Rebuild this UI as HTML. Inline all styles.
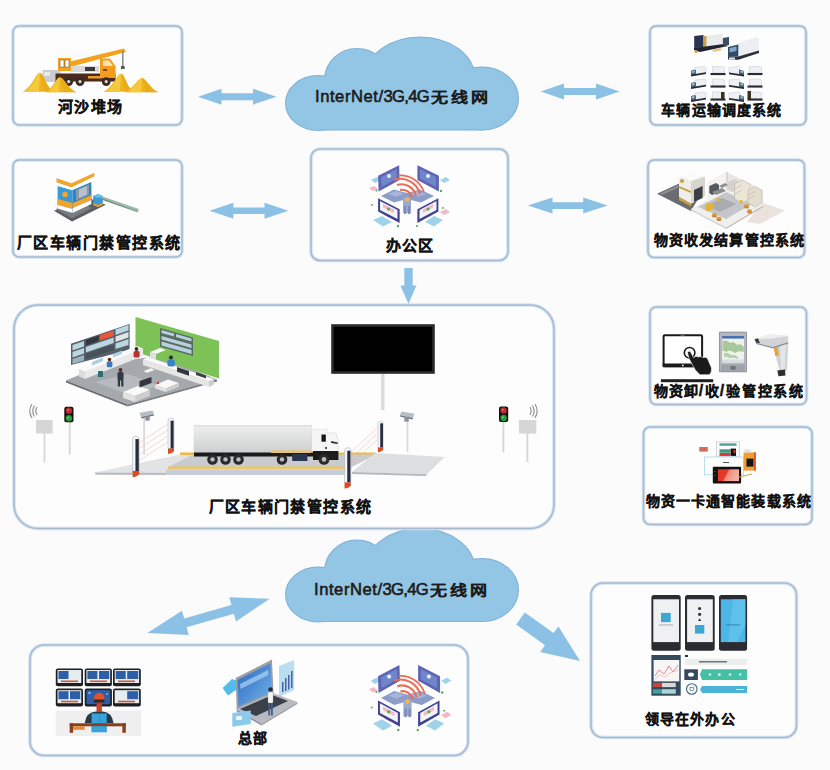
<!DOCTYPE html>
<html lang="zh-CN"><head><meta charset="utf-8">
<style>
html,body{margin:0;padding:0;background:#fbfbfc;width:830px;height:770px;overflow:hidden;}
body{position:relative;font-family:"Liberation Sans",sans-serif;}
svg.bg{position:absolute;left:0;top:0;}
.t{position:absolute;white-space:nowrap;font-weight:bold;color:#111;font-size:16px;line-height:1.6;transform-origin:0 0;-webkit-text-stroke:0.25px #111;}
.sl{margin-right:0.6px;margin-left:-0.6px;font-size:16px;-webkit-text-stroke:0.4px #111;}
.cj{display:inline-block;font-weight:bold;font-size:17px;margin-left:2.5px;letter-spacing:2.9px;transform:scaleY(0.8);transform-origin:50% 75%;-webkit-text-stroke:0.2px #1b1b1b}
.c{position:absolute;white-space:nowrap;color:#1b1b1b;font-size:17px;line-height:17px;-webkit-text-stroke:0.6px #1b1b1b;font-size:16.6px;}
</style></head><body>
<svg class="bg" width="830" height="770" viewBox="0 0 830 770">
<defs>
 <g id="cloud">
  <g fill="none" stroke="#7fb1da" stroke-width="2">
   <ellipse cx="318" cy="103" rx="32" ry="27"/>
   <ellipse cx="357" cy="80" rx="32" ry="31"/>
   <ellipse cx="420" cy="77" rx="54" ry="39.5"/>
   <ellipse cx="482" cy="98.5" rx="36" ry="31"/>
   <rect x="318" y="90" width="164" height="39.5"/>
  </g>
  <g fill="#93c6e5">
   <ellipse cx="318" cy="103" rx="32" ry="27"/>
   <ellipse cx="357" cy="80" rx="32" ry="31"/>
   <ellipse cx="420" cy="77" rx="54" ry="39.5"/>
   <ellipse cx="482" cy="98.5" rx="36" ry="31"/>
   <rect x="318" y="90" width="164" height="39.5"/>
  </g>
 </g>

 <g id="office">
  <!-- keyboards / light cyan pads -->
  <g fill="#9fd3ea">
   <polygon points="371,180 377,177 381,180 375,183"/>
   <polygon points="440,180 446,177 450,180 444,183" />
   <polygon points="373,220 382,216 392,222 383,226.5"/>
   <polygon points="425,222 434,216 443,220 434,226.5"/>
  </g>
  <g fill="#f2b8c8">
   <polygon points="369,188 374,186 378,189 373,191"/>
   <polygon points="384,215 390,212 395,215 389,218"/>
   <polygon points="421,215 427,212 432,215 426,218"/>
   <polygon points="440,212 446,209 450,212 444,215"/>
  </g>
  <!-- center desk cross -->
  <polygon points="381,196 394,189.5 407,193 420,189.5 434,196 421,202.5 407,199 394,202.5" fill="#8d9dc9"/>
  <polygon points="388,194 396,191 404,193.5 396,196.5" fill="#a9b6da"/>
  <polygon points="410,193.5 418,191 426,194 418,196.5" fill="#a9b6da"/>
  <polygon points="403,198 411,198 411,213 403,213" fill="#9aa9cf"/>
  <rect x="404" y="206" width="2.2" height="8" fill="#7d8dbb"/><rect x="408" y="206" width="2.2" height="8" fill="#7d8dbb"/>
  <!-- top-left monitor -->
  <polygon points="378.1,175.7 399.1,165.2 399.6,179.9 378.6,191.4" fill="#5d63b5"/>
  <polygon points="381,177 396.5,169 397,178.5 381.5,187" fill="#6f86c9"/>
  <circle cx="389" cy="176" r="2" fill="#e8eefa"/>
  <!-- top-right monitor -->
  <polygon points="417.4,165.2 438.9,175.7 438.9,191.4 417.4,179.9" fill="#5d63b5"/>
  <polygon points="420,169 436,177 436,187 420,178.5" fill="#6f86c9"/>
  <circle cx="428" cy="176" r="2" fill="#e8eefa"/>
  <!-- wifi arcs -->
  <g fill="none" stroke="#ec6b55" stroke-width="2">
   <path d="M400,190 A10,10 0 0 1 412,197"/>
   <path d="M397,185 A15,15 0 0 1 416,195.5"/>
   <path d="M394,180 A20,20 0 0 1 420,194"/>
   <path d="M398,175.5 A25,25 0 0 1 424,192" stroke-width="1.6"/>
  </g>
  <circle cx="407" cy="199.5" r="2.3" fill="#f4b24a"/>
  <!-- bottom-left monitor -->
  <polygon points="378.1,198.3 399.6,209.3 399.6,222.9 378.1,211.4" fill="#3d4196"/>
  <polygon points="380,201 397.5,210 397.5,219 380,210" fill="#f6f3f5"/>
  <polygon points="383,204 394,209.5 394,213 383,207.5" fill="#f2b8c8"/>
  <circle cx="388.5" cy="209" r="1.5" fill="#49b24d"/>
  <!-- bottom-right monitor -->
  <polygon points="417.4,209.3 438.4,198.3 438.4,211.4 417.4,222.9" fill="#3d4196"/>
  <polygon points="419.5,210 436.5,201 436.5,210 419.5,219" fill="#f6f3f5"/>
  <polygon points="423,209.5 433,204 433,207.5 423,213" fill="#f2b8c8"/>
  <circle cx="428" cy="209" r="1.5" fill="#49b24d"/>
  <!-- plants -->
  <g fill="#4caf50">
   <circle cx="376.5" cy="190.5" r="1"/><circle cx="441" cy="191" r="1.2"/>
   <circle cx="398" cy="226" r="1.2"/><circle cx="417" cy="226" r="1.1"/>
   <circle cx="443" cy="208" r="0.9"/><circle cx="372" cy="205" r="0.9"/>
  </g>
 </g>

 <g id="mtA">
  <polygon points="4,1 14,0 15,1 15,6 5,7.5 4,6.5" fill="#eef0f3" stroke="#c3c8ce" stroke-width="0.5"/>
  <polygon points="0,4 4,3 5,4 5,8.5 1,9 0,8" fill="#4f6579"/>
  <polygon points="0.8,4.5 3.5,4 3.5,6 0.8,6.5" fill="#9cc0d8"/>
  <polygon points="0,8.3 15,5.8 15,7.6 0,10" fill="#262a33"/>
 </g>
 <g id="mtB">
  <polygon points="2,0 13,0 14,1 14,6.5 2,6.5" fill="#eef0f3" stroke="#c3c8ce" stroke-width="0.5"/>
  <polygon points="0,6.5 15,6.5 15,8.6 0,8.6" fill="#262a33"/>
 </g>
 <g id="mtC">
  <polygon points="0,1 10,0 11,1 11,6.5 1,7.5 0,6.5" fill="#eef0f3" stroke="#c3c8ce" stroke-width="0.5"/>
  <polygon points="10,3 14,4 15,5 15,9 11,8.5 10,7.5" fill="#4f6579"/>
  <polygon points="11.5,4 14.2,4.7 14.2,6.5 11.5,6" fill="#9cc0d8"/>
  <polygon points="0,6 15,8.3 15,10 0,7.8" fill="#262a33"/>
 </g>

 <g id="post">
  <!-- local: x 0..7, y 0..H via transform; drawn for height 40 -->
  <path d="M1,4 Q1,0 4,0 Q7,0 7,4 L7,34 L1,34 Z" fill="#f4f5f7" stroke="#aeb4bd" stroke-width="0.6"/>
  <rect x="3.6" y="3" width="3" height="31" fill="#262b3d"/>
  <path d="M1,34 L7,34 L7,37 Q5,40 1,40 Z" fill="#de4a1f"/>
 </g>
 <g id="tl">
  <rect x="0" y="0" width="9.2" height="15.6" rx="2" fill="#111"/>
  <circle cx="4.6" cy="4" r="3.2" fill="#c0282a"/>
  <circle cx="4.6" cy="11.5" r="3.2" fill="#2a9a3c"/>
  <circle cx="3.8" cy="3.2" r="1" fill="#e46a6a"/>
  <circle cx="3.8" cy="10.7" r="1" fill="#6fd07e"/>
 </g>
 <g id="waves" fill="none" stroke="#8a8a8a" stroke-width="1.1">
  <path d="M9,3 Q6.5,7 9,11"/><path d="M6.5,1.5 Q3,7 6.5,12.5"/><path d="M4,0 Q-0.5,7 4,14"/>
 </g>
 <g id="cam">
  <polygon points="0,1.5 9,0 10,2.5 1,4.5" fill="#b9bec5"/>
  <polygon points="1,4.5 10,2.5 10,3.5 1.5,5.5" fill="#6d737b"/>
  <rect x="4" y="4" width="3" height="3" fill="#8a9097"/>
 </g>
</defs>

<!-- clouds -->
<use href="#cloud"/>
<use href="#cloud" transform="translate(0,491.5)"/>

<!-- boxes -->
<g fill="#fdfdfd" stroke="#d3e3f2" stroke-width="3.6">
 <rect x="13" y="26" width="169" height="99" rx="6"/>
 <rect x="650" y="26" width="156" height="99" rx="6"/>
 <rect x="13" y="160" width="169" height="97" rx="6"/>
 <rect x="311" y="149" width="197" height="111.5" rx="9"/>
 <rect x="648" y="160" width="156.5" height="97.5" rx="6"/>
 <rect x="14" y="305" width="540" height="223.5" rx="24"/>
 <rect x="650" y="307" width="156.5" height="97.5" rx="6"/>
 <rect x="643.5" y="427" width="168.5" height="97.5" rx="6.5"/>
 <rect x="30" y="645" width="438" height="110.5" rx="14"/>
 <rect x="591" y="583" width="205.5" height="154.5" rx="12"/>
</g>
<g fill="none" stroke="#a8bad0" stroke-width="1.5">
 <rect x="13" y="26" width="169" height="99" rx="6"/>
 <rect x="650" y="26" width="156" height="99" rx="6"/>
 <rect x="13" y="160" width="169" height="97" rx="6"/>
 <rect x="311" y="149" width="197" height="111.5" rx="9"/>
 <rect x="648" y="160" width="156.5" height="97.5" rx="6"/>
 <rect x="14" y="305" width="540" height="223.5" rx="24"/>
 <rect x="650" y="307" width="156.5" height="97.5" rx="6"/>
 <rect x="643.5" y="427" width="168.5" height="97.5" rx="6.5"/>
 <rect x="30" y="645" width="438" height="110.5" rx="14"/>
 <rect x="591" y="583" width="205.5" height="154.5" rx="12"/>
</g>


<!-- ===== A: crane + sand ===== -->
<g id="crane">
 <rect x="42.5" y="70" width="18" height="12" fill="#c9cdd2"/>
 <rect x="44" y="72" width="6" height="4" fill="#e6e8ea"/>
 <!-- boom -->
 <polygon points="68,62 124,48.5 126,52 70,67" fill="#f2a21c"/>
 <line x1="122.8" y1="51" x2="122.8" y2="68" stroke="#8a8f96" stroke-width="1.6"/>
 <rect x="121" y="66" width="3.6" height="3" fill="#555"/>
 <!-- operator cabin -->
 <rect x="58" y="58" width="13" height="13" fill="#f4a51f"/>
 <rect x="60" y="60" width="4" height="7" fill="#fff" stroke="#7a5a2a" stroke-width="0.6"/>
 <rect x="65" y="60" width="4" height="7" fill="#fff" stroke="#7a5a2a" stroke-width="0.6"/>
 <rect x="71" y="66" width="28" height="6" fill="#d9d9d9"/>
 <rect x="85" y="67" width="10" height="4" fill="#3a3a3a"/>
 <!-- chassis -->
 <rect x="55.5" y="73.5" width="60" height="8" fill="#4a2c1e"/>
 <rect x="88" y="76" width="14" height="2.5" fill="#f09a2a"/>
 <!-- cab -->
 <path d="M100,58.5 L110,58.5 L115.5,66 L115.5,78 L100,78 Z" fill="#f39c1e"/>
 <path d="M103,60.5 L109,60.5 L113,66 L103,66 Z" fill="#fbe3b8"/>
 <rect x="103" y="69" width="4" height="2" fill="#7a4a1a"/>
 <!-- wheels -->
 <g fill="#3a2a22"><circle cx="68.7" cy="81.6" r="4.4"/><circle cx="80" cy="81.6" r="4.4"/><circle cx="106.2" cy="81.6" r="4.4"/></g>
 <g fill="#ddd"><circle cx="68.7" cy="81.6" r="1.6"/><circle cx="80" cy="81.6" r="1.6"/><circle cx="106.2" cy="81.6" r="1.6"/></g>
 <!-- sand piles -->
 <path d="M22.5,91.8 C32.015,87.8 35.8,72.8 39.8,72.8 C43.8,72.8 46.19,87.8 54,91.8 Z" fill="#f1b41f"/>
 <path d="M25.5,91.8 C32.879999999999995,86.8 36.3,73.8 39.8,72.8 L38.8,91.8 Z" fill="#f6cc42" opacity=".85"/>
 <path d="M39.8,72.8 C43.8,72.8 46.19,87.8 54,91.8 L43.8,91.8 Z" fill="#e2a212" opacity=".45"/>
 <path d="M45.5,92.3 C53.42,88.3 55.9,77.2 59.9,77.2 C63.9,77.2 67.37,88.3 76.5,92.3 Z" fill="#f1b41f"/>
 <path d="M48.5,92.3 C54.14,87.3 56.4,78.2 59.9,77.2 L58.9,92.3 Z" fill="#f6cc42" opacity=".85"/>
 <path d="M59.9,77.2 C63.9,77.2 67.37,88.3 76.5,92.3 L63.9,92.3 Z" fill="#e2a212" opacity=".45"/>
 <path d="M103,91.8 C112.9,87.8 117,73.7 121,73.7 C125,73.7 126.85,87.8 134,91.8 Z" fill="#f1b41f"/>
 <path d="M106,91.8 C113.8,86.8 117.5,74.7 121,73.7 L120,91.8 Z" fill="#f6cc42" opacity=".85"/>
 <path d="M121,73.7 C125,73.7 126.85,87.8 134,91.8 L125,91.8 Z" fill="#e2a212" opacity=".45"/>
 <path d="M124,92.3 C133.9,88.3 138,78 142,78 C146,78 149.425,88.3 158.5,92.3 Z" fill="#f1b41f"/>
 <path d="M127,92.3 C134.8,87.3 138.5,79 142,78 L141,92.3 Z" fill="#f6cc42" opacity=".85"/>
 <path d="M142,78 C146,78 149.425,88.3 158.5,92.3 L146,92.3 Z" fill="#e2a212" opacity=".45"/>
</g>


<!-- ===== C: booth ===== -->
<g id="booth">
 <polygon points="54,210.8 72.1,221.6 105.8,204.8 87.8,197.5" fill="#5c5d60"/>
 <polygon points="56,209 72,218.5 92,208 76,200" fill="#7a7b7e"/>
 <!-- front (left) face -->
 <polygon points="57.6,186 72.7,190 72.7,213 57.6,208.5" fill="#3a9ad9"/>
 <polygon points="57.6,199 72.7,203 72.7,209 57.6,205" fill="#f2a52a"/>
 <polygon points="57.6,205 72.7,209 72.7,213 57.6,208.5" fill="#ffffff"/>
 <circle cx="65" cy="194.5" r="2.8" fill="#f2a52a"/>
 <!-- right face -->
 <polygon points="72.7,190 91.4,182 91.4,204 72.7,213" fill="#2f86c6"/>
 <polygon points="76,190 89,184.5 89,195 76,200.5" fill="#8c98a6"/>
 <polygon points="79,189.5 87,186 87,194.5 79,198" fill="#b9c2cc"/>
 <polygon points="72.7,203 91.4,195 91.4,200 72.7,208" fill="#f2a52a"/>
 <polygon points="72.7,208 91.4,200 91.4,204 72.7,213" fill="#ffffff"/>
 <!-- roof -->
 <polygon points="56.5,178.3 71.5,183.3 94.4,172.8 94.4,176.5 71.5,187.5 56.5,182.5" fill="#f2a52a"/>
 <polygon points="56.5,182.5 71.5,187.5 94.4,176.5 94.4,178.5 71.5,190 56.5,185.5" fill="#ffffff"/>
 <!-- gate post -->
 <polygon points="93.2,196 98,193.9 102.8,196 102.8,203 98,205 93.2,203" fill="#3a9ad9"/>
 <polygon points="93.2,196 98,193.9 102.8,196 98,198" fill="#6cc0ef"/>
 <polygon points="93.2,203 98,205 102.8,203 102.8,205 98,207 93.2,205" fill="#f2a52a"/>
 <!-- barrier arm -->
 <polygon points="101,196 138.8,209 138,211.5 101,199" fill="#9ab8a4"/>
 <polygon points="101,198 138,211.5 137.5,212.3 101,199.5" fill="#6f8f80"/>
</g>


<!-- ===== D: office ===== -->
<use href="#office"/>


<!-- ===== B: trucks ===== -->
<g id="trucks">
 <!-- big truck 1 -->
 <polygon points="706.5,36 722.9,33.5 722.9,46 706.5,48.5" fill="#e9ebee"/>
 <polygon points="694.2,36 703.5,35 703.5,47.4 694.2,48" fill="#2c3550"/>
 <polygon points="703.5,36 706.5,36 706.5,48.5 703.5,48" fill="#c9a24a"/>
 <polygon points="694,48 724,44 728,46 700,52 694,50" fill="#1f2430"/>
 <polygon points="722.9,38 729,37 729,45 722.9,46" fill="#3c4d66"/>
 <circle cx="696" cy="51.5" r="1.6" fill="#c9a24a"/>
 <polygon points="712,50 720,48 722,50 714,52" fill="#e8c08a"/>
 <!-- big truck 2 -->
 <polygon points="738,43 757,37 758.8,39 758.8,51 738.3,57" fill="#eceef1"/>
 <polygon points="728,47 738.3,44.5 738.3,56.6 728,57" fill="#2f4a66"/>
 <polygon points="729.5,48 736.5,46.5 736.5,51 729.5,52.5" fill="#7fa8c8"/>
 <polygon points="728,57 738.3,56.6 759,50.5 759,53 738.3,59.7 728,59.5" fill="#2b2f3a"/>
 <rect x="729" y="57.5" width="6" height="2" fill="#e7e7e7"/>
 <!-- mini trucks 3 rows x 4 -->
 <use href="#mtA" x="691" y="66.5"/><use href="#mtB" x="710.5" y="66.5"/><use href="#mtC" x="729" y="66.5"/><use href="#mtB" x="747.5" y="66.5"/>
 <use href="#mtA" x="691" y="79"/><use href="#mtB" x="710.5" y="79"/><use href="#mtC" x="729" y="79"/><use href="#mtB" x="747.5" y="79"/>
 <use href="#mtA" x="691" y="92"/><use href="#mtB" x="710.5" y="92"/><use href="#mtC" x="729" y="92"/><use href="#mtB" x="747.5" y="92"/>
 <rect x="721" y="92" width="3.5" height="7" fill="#3a3020"/>
 <rect x="747.5" y="91" width="3.5" height="8" fill="#3a3020"/>
</g>

<!-- ===== E: warehouse ===== -->
<g id="warehouse">
 <polygon points="746.5,222.3 763,203 785,210.5 760,224" fill="#ebe2de"/>
 <polygon points="657,193.7 682.4,181.9 700,196 690.8,211" fill="#6b6c70"/>
 <polygon points="660,193.5 682,183.5 684,185 662,195" fill="#8d8e92"/>
 <!-- floor slab -->
 <polygon points="690.8,208.9 726.2,189 763.3,205.5 726.2,227.4" fill="#efefed"/>
 <polygon points="690.8,208.9 726.2,227.4 726.2,229 690.8,210.5" fill="#cfcfcc"/>
 <polygon points="726.2,227.4 763.3,205.5 763.3,207 726.2,229" fill="#bdbdba"/>
 <polygon points="698,207 726,192 752,204 726,219" fill="#c4c6c9"/>
 <polygon points="706,206 722,198 736,204 720,212" fill="#a9acb0"/>
 <!-- back walls -->
 <polygon points="707.7,181.9 726.2,171.7 726.2,192 707.7,202" fill="#f3f2ef"/>
 <polygon points="726.2,171.7 763.3,190.3 763.3,205.5 726.2,189" fill="#e9e7e3"/>
 <polygon points="726.2,171.7 728,172.6 728,190 726.2,189" fill="#d8d6d2"/>
 <!-- machines -->
 <polygon points="709.3,186 716,183 719,185 719,192 712,195 709.3,193" fill="#55585e"/>
 <polygon points="719,186 725,183 728,185 722,188" fill="#8c8f95"/>
 <polygon points="728,182 734,179 738,181 738,189 732,192 728,190" fill="#d5d2cb"/>
 <!-- shelves right -->
 <g stroke="#b5ada0" stroke-width="0.5">
  <polygon points="734.6,184 742,180 750,184 750,199 742,203 734.6,199" fill="#ebe5d8"/>
  <polygon points="748,190 755,186.5 761.6,190 761.6,203 755,207 748,203" fill="#e4ddd0"/>
 </g>
 <g stroke="#a69e90" stroke-width="0.4">
  <line x1="734.6" y1="189" x2="742" y2="185"/><line x1="734.6" y1="194" x2="742" y2="190"/>
  <line x1="748" y1="195" x2="755" y2="191.5"/><line x1="748" y1="199" x2="755" y2="195.5"/>
 </g>
 <!-- truck block left -->
 <polygon points="679,178 693,171.7 705,177 705,196 691,203.8 679,197" fill="#efeeea"/>
 <polygon points="681,176 693,171.7 703,176 691,181" fill="#fbfbf9"/>
 <polygon points="691,181 705,177 705,196 691,203.8" fill="#d7d5d0"/>
 <polygon points="694,190 702.6,186 702.6,198 694,202" fill="#3d3f44"/>
 <polygon points="679,197 691,203.8 691,206.5 679,200" fill="#c9a040"/>
 <polygon points="679,186 691,191 691,193 679,188" fill="#c9a040"/>
 <circle cx="682" cy="181" r="2" fill="#c9a040"/>
 <!-- yellow forklifts -->
 <polygon points="705,205 710,202.5 713,204 713,209 708,211.5 705,210" fill="#e3b437"/>
 <rect x="717" y="198" width="3" height="3" fill="#e3b437"/>
 <rect x="740" y="200" width="2.5" height="3" fill="#e3b437"/>
 <!-- barrels -->
 <g fill="#e07b2c"><ellipse cx="714.5" cy="216" rx="2.6" ry="1.6"/><ellipse cx="719" cy="219.5" rx="2.6" ry="1.6"/><ellipse cx="746.5" cy="207" rx="2.6" ry="1.6"/><ellipse cx="749.5" cy="212" rx="2.6" ry="1.6"/></g>
 <g fill="#c9a040"><ellipse cx="714.5" cy="214.5" rx="2.4" ry="1.2"/><ellipse cx="719" cy="218" rx="2.4" ry="1.2"/><ellipse cx="746.5" cy="205.5" rx="2.4" ry="1.2"/><ellipse cx="749.5" cy="210.5" rx="2.4" ry="1.2"/></g>
 <polygon points="712,192 722,188 726,191 716,195" fill="#8a8c90"/>
</g>


<!-- ===== F: control room ===== -->
<g id="ctrlroom">
 <!-- floor -->
 <polygon points="66,380.6 127.6,404.4 217,379.6 160,356 110,362" fill="#a5a8ac"/>
 <polygon points="66,380.6 127.6,404.4 127.6,406.5 66,382.6" fill="#6a6d72"/>
 <polygon points="127.6,404.4 217,379.6 217,381.6 127.6,406.5" fill="#7a7d82"/>
 <polygon points="95,382 127,394 160,386 128,374" fill="#b7babe"/>
 <!-- green wall -->
 <polygon points="135.5,317 219,341 219,378.6 135.5,352" fill="#7cc257"/>
 <polygon points="160,328 193,337.5 193,356 160,346.5" fill="#5b6b63"/>
 <polygon points="161.5,330 174,333.5 174,336.5 161.5,333" fill="#b7d2dc"/>
 <polygon points="176,334 191.5,338.5 191.5,341.5 176,337" fill="#b7d2dc"/>
 <polygon points="161.5,336 191.5,344.5 191.5,348 161.5,339.5" fill="#b7d2dc"/>
 <polygon points="161.5,341.5 191.5,350 191.5,354 161.5,345.5" fill="#b7d2dc"/>
 <!-- left monitor wall -->
 <polygon points="71,343.8 129.6,324 129.6,349.8 71,365" fill="#56606b"/>
 <polygon points="72.5,345 84,341 84,346.5 72.5,350.5" fill="#bcd6e0"/>
 <polygon points="72.5,352 84,348 84,353.5 72.5,357.5" fill="#bcd6e0"/>
 <polygon points="72.5,359 84,355 84,360.5 72.5,364" fill="#9ab3bf"/>
 <polygon points="85.8,340 98.8,335.5 98.8,341 85.8,345.5" fill="#33383f"/>
 <polygon points="85.8,347 113.7,337.5 113.7,343 85.8,352.5" fill="#bcd6e0"/>
 <polygon points="85.8,354 113.7,344.5 113.7,350 85.8,359.5" fill="#48505a"/>
 <polygon points="99.8,335 113.7,330.5 113.7,336 99.8,340.5" fill="#e7573a"/>
 <polygon points="115.5,329.5 128.5,325 128.5,330.5 115.5,335" fill="#bcd6e0"/>
 <polygon points="115.5,336.5 128.5,332 128.5,337.5 115.5,342" fill="#dfe6ea"/>
 <polygon points="115.5,343.5 128.5,339 128.5,345 115.5,349" fill="#bcd6e0"/>
 <!-- desks -->
 <g>
  <!-- back-left long desk -->
  <polygon points="79,369 137,346 143,348.5 85,371.5" fill="#fafafa"/>
  <polygon points="79,369 85,371.5 85,379 79,376.5" fill="#dcdcdc"/>
  <polygon points="85,371.5 143,348.5 143,356 85,379" fill="#e9e9e9"/>
  <polygon points="92,362 103,357.5 103,361 92,365.5" fill="#a9cfe0"/>
  <polygon points="113,354 122,350.5 122,354 113,357.5" fill="#a9cfe0"/>
  <rect x="98" y="371" width="5" height="6" fill="#2e6f74"/>
  <!-- right desk row along green wall -->
  <polygon points="148,357 214,379 209,381.5 143,359.5" fill="#fafafa"/>
  <polygon points="143,359.5 209,381.5 209,387 143,365" fill="#e6e6e6"/>
  <polygon points="209,381.5 214,379 214,384.5 209,387" fill="#cfcfcf"/>
  <polygon points="177,367 189,371 189,375.8 177,371.8" fill="#33373d"/>
  <polygon points="196,372 206,375.5 206,378.5 196,375" fill="#3b4046"/>
  <polygon points="150,352 160,348 166,350 156,354" fill="#f7f7f7"/>
  <polygon points="150,352 156,354 156,360 150,358" fill="#e0e0e0"/>
  <!-- front desks -->
  <polygon points="123,392 138,386 150,390 135,396" fill="#f9f9f9"/>
  <polygon points="123,392 135,396 135,402 123,398" fill="#e2e2e2"/>
  <polygon points="135,396 150,390 150,396 135,402" fill="#cdcdcd"/>
  <polygon points="155,385 168,379.5 179,383 166,388.5" fill="#f9f9f9"/>
  <polygon points="155,385 166,388.5 166,392 155,388.5" fill="#e2e2e2"/>
  <polygon points="166,388.5 179,383 179,387 166,392" fill="#cdcdcd"/>
  <polygon points="139.5,381 151.5,377 151.5,383 139.5,387.5" fill="#33373d"/>
  <polygon points="143,371 151,368 155,370 147,373" fill="#f4f4f4" stroke="#aaa" stroke-width="0.3"/>
 </g>
 <!-- people -->
 <g>
  <circle cx="109.5" cy="359.5" r="1.8" fill="#5a2a1a"/><rect x="106.8" y="361.3" width="5.6" height="6" rx="1.5" fill="#3b78b8"/>
  <circle cx="136.5" cy="349" r="1.9" fill="#4a2a1a"/><rect x="133.6" y="351" width="6" height="6.5" rx="1.5" fill="#b8312b"/>
  <circle cx="171" cy="357.5" r="2" fill="#2a2a2a"/><rect x="167.4" y="359.5" width="7.5" height="7" rx="2" fill="#3a85c6"/>
  <circle cx="120.5" cy="370" r="1.9" fill="#5a2a1a"/><rect x="117.5" y="372" width="6" height="8.5" rx="1.5" fill="#2f3a45"/>
  <rect x="117.8" y="380" width="2.2" height="6.5" fill="#2f3a45"/><rect x="121.2" y="380" width="2.2" height="6.5" fill="#2f3a45"/>
  <circle cx="158" cy="383" r="1.2" fill="#d23b2b"/>
 </g>
</g>

<!-- ===== F: screen ===== -->
<rect x="381" y="372" width="3.5" height="38" fill="#dcdcdc"/>
<rect x="332.5" y="325.5" width="101" height="47" fill="#000" stroke="#2b2b2b" stroke-width="2.6"/>

<!-- ===== F: traffic lights & signs ===== -->
<g fill="#d6d6d6">
 <rect x="43.6" y="433" width="1.8" height="29.5"/>
 <rect x="68.8" y="421" width="1.8" height="33.5"/>
 <rect x="502.5" y="421" width="1.8" height="31.5"/>
 <rect x="526.5" y="433" width="1.8" height="29"/>
 <rect x="36" y="420" width="16.6" height="13.5"/>
 <rect x="519" y="420" width="17.3" height="13.5"/>
</g>
<use href="#tl" x="64.3" y="406.7"/>
<use href="#tl" x="499" y="406.5"/>
<use href="#waves" x="28" y="404"/>
<use href="#waves" transform="translate(538.9,404) scale(-1,1)"/>

<!-- ===== F: weighbridge ===== -->
<g id="bridge">
 <!-- left ramp -->
 <polygon points="94.6,472.4 180,454.5 193,454.5 168,472.8" fill="#e2e3e5"/>
 <polygon points="94.6,472.4 168,472.8 168,475 96,474.8" fill="#b9bdc3"/>
 <!-- main bridge -->
 <polygon points="180,452.5 376,452.5 376,455 180,455" fill="#f1b843"/>
 <polygon points="193,454.5 376,454.5 352,467 168,467" fill="#c9cbce"/>
 <polygon points="168,466.5 352,466.5 350,469.5 168,469.5" fill="#edc56a"/>
 <polygon points="166,469.5 350,469.5 350,475 166,475" fill="#c9ced6"/>
 <!-- right ramp -->
 <polygon points="375,453 444.6,457 427,474.3 352,472" fill="#dddee0"/>
 <polygon points="352,472 427,474.3 426,476 352,474" fill="#b3b7bd"/>
 <!-- light curtain beams -->
 <g stroke="#f2b7b2" stroke-width="0.6" opacity="0.9">
  <line x1="140" y1="442" x2="168" y2="424"/><line x1="140" y1="448" x2="168" y2="430"/>
  <line x1="140" y1="454" x2="168" y2="436"/><line x1="140" y1="460" x2="168" y2="442"/>
  <line x1="351" y1="452" x2="377" y2="428"/><line x1="351" y1="458" x2="377" y2="434"/>
  <line x1="351" y1="464" x2="377" y2="440"/>
 </g>
</g>

<!-- truck -->
<g id="truck">
 <defs><linearGradient id="trl" x1="0" y1="0" x2="0" y2="1"><stop offset="0" stop-color="#eeeeee"/><stop offset="1" stop-color="#cdcecf"/></linearGradient></defs>
 <rect x="193.6" y="425.3" width="118.4" height="28" fill="url(#trl)"/>
 <rect x="193.6" y="425.3" width="118.4" height="1" fill="#d8d8d8"/>
 <path d="M311.5,429.4 L327,429.4 L327,433 L335.9,433 L337.7,438 L338.4,452 L311.5,452 Z" fill="#f5f5f5" stroke="#cfcfcf" stroke-width="0.5"/>
 <rect x="321.5" y="434.5" width="4.3" height="7.2" fill="#151515"/>
 <polygon points="331.2,441 337.7,442.5 337.7,444 331.2,443" fill="#2a2a2a"/>
 <circle cx="326" cy="448" r="1" fill="#222"/>
 <rect x="313" y="451" width="25.4" height="9" fill="#1c1c1c"/>
 <rect x="194" y="452.5" width="120" height="4" fill="#1a1a1a"/>
 <rect x="292.2" y="454" width="15.2" height="7" fill="#2a3550"/>
 <rect x="271" y="450.5" width="40" height="2.5" fill="#e8c46a"/>
 <g fill="#2a2a2a"><circle cx="212.5" cy="459.4" r="5.3"/><circle cx="225.5" cy="459.4" r="5.3"/><circle cx="238.5" cy="459.4" r="5.3"/><circle cx="282" cy="459.4" r="5.3"/><circle cx="324" cy="459.4" r="5.4"/></g>
 <g fill="#bdbdbd"><circle cx="212.5" cy="459.4" r="2.2"/><circle cx="225.5" cy="459.4" r="2.2"/><circle cx="238.5" cy="459.4" r="2.2"/><circle cx="282" cy="459.4" r="2.2"/><circle cx="324" cy="459.4" r="2.3"/></g>
</g>

<!-- cameras -->
<rect x="143.2" y="418" width="1.8" height="37" fill="#dadada"/>
<rect x="406.7" y="419" width="1.6" height="33" fill="#d8d8d8"/>
<use href="#cam" transform="translate(139.5,410.5) scale(1.45)"/>
<use href="#cam" transform="translate(414.5,411.5) scale(-1.45,1.45)"/>

<!-- posts -->
<use href="#post" transform="translate(167,418) scale(1,0.9)"/>
<use href="#post" transform="translate(377,421) scale(0.9,0.78)"/>
<use href="#post" transform="translate(131.5,436) scale(1.1,1.03)"/>
<use href="#post" transform="translate(343.5,447.7) scale(1.05,1.02)"/>


<!-- ===== G: tablet, PDA, scanner ===== -->
<g id="gicons">
 <rect x="663.6" y="335.3" width="38.5" height="30.9" rx="1.2" fill="#fff" stroke="#1a1a1a" stroke-width="2"/>
 <rect x="662.6" y="363.5" width="40.5" height="3.7" fill="#1a1a1a"/>
 <circle cx="682.8" cy="365.4" r="0.9" fill="#fff"/>
 <rect x="680.5" y="334.6" width="4" height="1.2" fill="#666"/>
 <circle cx="689.6" cy="352.8" r="5.3" fill="none" stroke="#1a1a1a" stroke-width="1.6"/>
 <path d="M687.5,352.5 Q688.5,350.5 690.3,351.5 L693.5,357.5 Q696,355.5 698.5,357 Q701,355.8 703,357.5 Q705.5,356.5 707.5,358.5 L711.5,368 Q712,372 709.5,374.8 L700,374.8 Q695,371 692.5,365 L689,358.5 Z" fill="#1a1a1a" stroke="#fff" stroke-width="0.6"/>
 <rect x="660.9" y="379.2" width="52.3" height="3" fill="#1f1f1f"/>
 <!-- PDA -->
 <path d="M719.1,334 Q719.1,331.7 722,331.7 L744,331.7 Q746.9,331.7 746.9,334 L746.9,372.2 L719.1,372.2 Z" fill="#b4b8be"/>
 <rect x="719.6" y="332.2" width="26.8" height="39.5" fill="none" stroke="#8c9096" stroke-width="0.8"/>
 <rect x="722.1" y="336" width="21.9" height="27" fill="#eef3ea"/>
 <rect x="722.1" y="336" width="21.9" height="2.6" fill="#4b6fb2"/>
 <path d="M722.5,341 Q727,339.5 730,343 Q734,341 737,345 Q741,343 743.8,347 L743.8,352 Q739,350 735,353 Q730,349 726,352 Q724,350 722.5,351 Z" fill="#a9c79c"/>
 <path d="M724,353 Q728,352 731,355 Q735,354 738,357 L738,359 Q733,357 729,358 Q726,356 724,357 Z" fill="#b7d0ab"/>
 <rect x="722.1" y="359.5" width="21.9" height="3.5" fill="#d6dde3"/>
 <rect x="721" y="364.5" width="24" height="6.5" fill="#9ea3aa"/>
 <ellipse cx="733" cy="367.8" rx="3" ry="2" fill="#6f747b"/>
 <!-- scanner -->
 <polygon points="773,345.2 788.2,343 787,370.5 780,372.2" fill="#cfd2d6"/>
 <polygon points="780,345 786,344 784.5,371 781,372" fill="#e3e5e8"/>
 <polygon points="773.9,348.6 777.6,347.6 779,355.4 775.3,356" fill="#e8a23a"/>
 <polygon points="754.5,339.3 769.7,334.3 788.2,336 788.2,341.9 773,346.9 756.2,342.7" fill="#d2d4d8"/>
 <polygon points="754.5,339.3 769.7,334.3 788.2,336 772,338.5" fill="#eceef0"/>
 <polygon points="756.2,342.7 773,346.9 788.2,341.9 788.2,343.5 773,348.5 756,344" fill="#8d9298"/>
 <polygon points="754.5,339.3 758,338.2 760,343.2 756.2,342.7" fill="#3a3d42"/>
 <polygon points="777.3,370.5 785,369.5 785.5,375.6 778.5,376.3" fill="#2d2f33"/>
</g>


<!-- ===== H: card system ===== -->
<g id="hicons">
 <rect x="699.3" y="447" width="8.5" height="4.6" fill="#d9695a"/>
 <rect x="716.6" y="441.9" width="22.8" height="14.3" fill="#fbfbfb" stroke="#c3c6c9" stroke-width="0.7"/>
 <rect x="719.5" y="443.4" width="17" height="2.3" fill="#4d9b92"/>
 <rect x="719.5" y="449.3" width="10.5" height="3.5" fill="#3f9a80"/>
 <rect x="719.5" y="453.1" width="10.5" height="2.8" fill="#d83030"/>
 <rect x="730.5" y="448.6" width="5.5" height="7.3" fill="#111"/>
 <rect x="733.5" y="450" width="2" height="3" fill="#d83030"/>
 <rect x="704.4" y="457" width="39.2" height="17.8" fill="#fdfdfd" stroke="#a9d6e6" stroke-width="0.8"/>
 <rect x="723" y="462" width="6" height="1" fill="#555"/>
 <defs><linearGradient id="hred" x1="0" y1="0" x2="1" y2="0.3"><stop offset="0.45" stop-color="#e2392a"/><stop offset="0.55" stop-color="#f08f82"/><stop offset="1" stop-color="#f4b0a6"/></linearGradient></defs>
 <rect x="712.8" y="466.8" width="28.3" height="16.8" rx="1" fill="#121212"/>
 <rect x="717.9" y="469.3" width="21.1" height="11.8" fill="url(#hred)"/>
 <rect x="714.3" y="471" width="1" height="1" fill="#777"/><rect x="714.3" y="475" width="1" height="1" fill="#777"/>
 <line x1="738.5" y1="477.3" x2="752" y2="474" stroke="#c9a24e" stroke-width="1"/>
 <rect x="743.6" y="452.4" width="12.2" height="18.2" fill="#f0a030"/>
 <rect x="754" y="452.4" width="1.8" height="18.2" fill="#d9562a"/>
 <rect x="746.5" y="458.6" width="7" height="8" fill="#151515"/>
 <rect x="744.5" y="449.5" width="6" height="3" fill="#e0e0e0"/>
</g>


<!-- ===== I: monitor wall ===== -->
<g id="mwall">
 <rect x="55.8" y="710.6" width="85.6" height="25.4" fill="#efefef"/>
 <g fill="#1e1f22">
  <rect x="55.8" y="668.4" width="27.2" height="17.9" rx="2"/>
  <rect x="84.7" y="668.4" width="27.2" height="17.9" rx="2"/>
  <rect x="113" y="668.4" width="27.8" height="17.9" rx="2"/>
  <rect x="55.8" y="688.6" width="27.2" height="17.9" rx="2"/>
  <rect x="84.7" y="688.6" width="27.2" height="17.9" rx="2"/>
  <rect x="113" y="688.6" width="27.8" height="17.9" rx="2"/>
 </g>
 <g fill="#e4edf1">
  <rect x="57.5" y="670" width="23.8" height="13" />
  <rect x="86.4" y="670" width="23.8" height="13" />
  <rect x="114.7" y="670" width="24.4" height="13" />
  <rect x="57.5" y="690.2" width="23.8" height="13" />
  <rect x="114.7" y="690.2" width="24.4" height="13" />
 </g>
 <rect x="86.4" y="690.2" width="23.8" height="14" fill="#2d5fa8"/>
 <g fill="#2d5fa8">
  <rect x="58.5" y="671" width="10" height="8"/>
  <rect x="87.4" y="671" width="10" height="8"/><rect x="99" y="671" width="10.2" height="8"/>
  <rect x="115.7" y="671" width="10" height="8"/><rect x="127.2" y="671" width="11" height="8"/>
  <rect x="58.5" y="691.2" width="10" height="8"/><rect x="70" y="691.2" width="10.3" height="8"/>
  <rect x="127.2" y="691.2" width="11" height="8"/>
 </g>
 <g fill="#d9552a">
  <rect x="61" y="680.5" width="17" height="1.6"/><rect x="90" y="680.5" width="17" height="1.6"/><rect x="118" y="680.5" width="17" height="1.6"/>
  <rect x="61" y="700.7" width="17" height="1.6"/><rect x="118" y="700.7" width="17" height="1.6"/>
 </g>
 <circle cx="89.5" cy="693" r="1.3" fill="#6fb6e8"/><circle cx="107" cy="694" r="1" fill="#6fb6e8"/>
 <!-- person -->
 <path d="M84.7,723.3 Q86,712 96,711.5 L102.5,711.5 Q112,712 113.6,723.3 Z" fill="#27384a"/>
 <rect x="91.6" y="713.5" width="15.1" height="18" fill="#38a2d9"/>
 <rect x="99" y="713.5" width="0.7" height="18" fill="#2a86bd"/>
 <rect x="96.5" y="704" width="5.4" height="8" fill="#c9442a"/>
 <circle cx="99.2" cy="698" r="5.3" fill="#e0512c"/>
 <rect x="94" y="699.5" width="10.4" height="3" fill="#2a2a2a"/>
 <!-- desk -->
 <rect x="69.7" y="723.3" width="56.1" height="3" fill="#8a3d1a"/>
 <rect x="69.7" y="723.3" width="3.4" height="9.5" fill="#8a3d1a"/>
 <rect x="122.4" y="723.3" width="3.4" height="9.5" fill="#8a3d1a"/>
 <rect x="73.1" y="726.3" width="11.5" height="3.5" fill="#e38a3c"/>
 <rect x="91.6" y="726.3" width="15.1" height="6" fill="#38a2d9"/>
</g>

<!-- ===== I: laptop ===== -->
<g id="laptop">
 <polygon points="222.6,688 232,679 240,682 236,690 228,695.4" fill="#52bde9"/>
 <polygon points="279,666 294.2,660 294.2,690 279,697" fill="#b9def2"/>
 <g fill="#4a5fa8"><rect x="282" y="682" width="1.5" height="10"/><rect x="285" y="678" width="1.5" height="13"/><rect x="288" y="675" width="1.5" height="14.5"/><rect x="291" y="671" width="1.5" height="17"/></g>
 <polygon points="236.7,709.5 273.6,693.2 297.4,701.9 261.6,723.6" fill="#b7bbc1"/>
 <polygon points="240,709 272,695 288,701 256,716" fill="#3a3f48"/>
 <polygon points="236.7,709.5 261.6,723.6 261.6,725.5 236.7,711.5" fill="#8e939a"/>
 <polygon points="261.6,723.6 297.4,701.9 297.4,703.9 261.6,725.5" fill="#9ea3aa"/>
 <polygon points="235.6,678 271.9,659.6 273.6,693.2 236.7,709.5" fill="#9aa0a8"/>
 <defs><linearGradient id="lscr" x1="0" y1="0" x2="1" y2="1"><stop offset="0" stop-color="#2a68bd"/><stop offset="1" stop-color="#74b4ea"/></linearGradient></defs>
 <polygon points="237.5,680 270.3,663.3 271.8,691.8 238.5,706.5" fill="url(#lscr)"/>
 <polygon points="240,684 268,670 268.5,675 240.5,689" fill="#a9d3f3" opacity=".7"/>
 <polygon points="232.3,713 250.8,710.5 250.8,724 232.3,726.8" fill="#8ccaec"/>
 <rect x="236" y="716" width="6" height="4" fill="#e8f4fb"/>
 <!-- person -->
 <circle cx="270.5" cy="689.5" r="2.2" fill="#2a2a3a"/>
 <rect x="268" y="692" width="5" height="11" rx="1.5" fill="#f4f4f4" stroke="#bbb" stroke-width="0.3"/>
 <rect x="268.3" y="703" width="1.8" height="12.5" fill="#3e5d92"/><rect x="271" y="703" width="1.8" height="12.5" fill="#3e5d92"/>
</g>

<!-- ===== I: office copy ===== -->
<use href="#office" transform="translate(407.5,699) scale(1.02,1.07) translate(-407,-197)"/>

<!-- ===== J: phones & UI ===== -->
<g id="jicons">
 <g fill="#2a2c31">
  <rect x="651.4" y="595" width="29.3" height="55.7" rx="2.5"/>
  <rect x="685" y="595" width="29.7" height="55.7" rx="2.5"/>
  <rect x="719" y="595" width="28.1" height="55.7" rx="2.5"/>
 </g>
 <rect x="653.3" y="599.3" width="25.7" height="42.8" fill="#eef0f1"/>
 <rect x="687.1" y="599.3" width="25.7" height="42.8" fill="#eef0f1"/>
 <rect x="720.8" y="599.3" width="24.6" height="42.8" fill="#4db6e6"/>
 <polygon points="733,599.3 745.4,599.3 745.4,625 737,642.1 728,642.1" fill="#6cc6ee" opacity=".6"/>
 <rect x="661" y="612.9" width="9.7" height="9.2" fill="#3ba7d3"/>
 <rect x="659" y="624.5" width="14" height="0.9" fill="#9aa"/>
 <rect x="695" y="625" width="9.3" height="8.6" fill="#3ba7d3"/>
 <circle cx="699.6" cy="608.5" r="1.6" fill="#333"/><circle cx="699.6" cy="614.3" r="1.6" fill="#333"/>
 <polygon points="698,621 699.6,618.2 701.2,621" fill="#333"/>
 <rect x="726" y="624.5" width="14" height="0.9" fill="#2d7ea8"/>
 <!-- dashboard -->
 <rect x="651.4" y="655" width="29.3" height="40.7" fill="#34495e"/>
 <rect x="653.6" y="660" width="25.7" height="21.4" fill="#f6f6f6"/>
 <polyline points="655,676 659,670 664,674 669,666 673,672 678,665" fill="none" stroke="#e06060" stroke-width="0.7"/>
 <polyline points="655,679 660,675 665,677 670,673 678,670" fill="none" stroke="#e8a0a0" stroke-width="0.6"/>
 <rect x="652.9" y="682.9" width="22.8" height="4.2" fill="#c9453b"/>
 <rect x="662" y="682.9" width="13.7" height="4.2" fill="#d9d9d9"/>
 <rect x="652.9" y="689.3" width="22.8" height="4.3" fill="#3ea3a0"/>
 <rect x="662" y="689.3" width="13.7" height="4.3" fill="#a9d6d4"/>
 <!-- UI bars -->
 <rect x="685" y="658.6" width="62.1" height="6.4" fill="#eceeee"/>
 <rect x="699" y="661.2" width="28" height="1.2" fill="#555"/>
 <rect x="685" y="655" width="3" height="2" fill="#333"/>
 <rect x="684.3" y="669.3" width="13.6" height="10.7" fill="#34495e"/>
 <ellipse cx="691" cy="674.6" rx="3" ry="2.2" fill="#fff"/>
 <polygon points="702.1,669.3 747.1,669.3 747.1,680 702.1,680 700,674.6" fill="#45bfa5"/>
 <g fill="#c9efe6"><circle cx="710" cy="674.6" r="1.3"/><rect x="718" y="673.3" width="2.6" height="2.6"/><circle cx="730" cy="674.6" r="1.4"/><rect x="739" y="673.5" width="2.5" height="2"/></g>
 <circle cx="691.8" cy="689" r="5.3" fill="#f6f8f8" stroke="#3d6b78" stroke-width="1.1"/>
 <rect x="690" y="687.5" width="3.6" height="3" fill="none" stroke="#3d6b78" stroke-width="0.6"/>
 <polygon points="702.1,686 747.1,686 747.1,693.1 702.1,693.1 700,689.5" fill="#4bb3d8"/>
 <rect x="736" y="689" width="8" height="1" fill="#dff2fa"/>
</g>

<!-- arrows -->
<g fill="#8cc1e6">
 <polygon points="198,96.7 221.5,88.7 221.5,93.2 253,93.2 253,88.7 276.5,96.7 253,104.7 253,100.2 221.5,100.2 221.5,104.7"/>
 <polygon points="540.8,91.6 564,83.6 564,88.1 596,88.1 596,83.6 619.5,91.6 596,99.6 596,95.1 564,95.1 564,99.6"/>
 <polygon points="209.5,210.8 233.4,202.8 233.4,207.5 264.5,207.5 264.5,202.8 288.3,210.8 264.5,218.8 264.5,214.1 233.4,214.1 233.4,218.8"/>
 <polygon points="528,205.6 552.5,197.6 552.5,202.2 583.2,202.2 583.2,197.6 607.6,205.6 583.2,213.6 583.2,209 552.5,209 552.5,213.6"/>
 <polygon points="404.3,268 412.7,268 412.7,285.6 416.4,285.6 408.5,303.7 400.4,285.6 404.3,285.6"/>
 <polygon points="147.3,633 182,610.8 184.2,618.6 231.4,605 229.3,597.3 269.8,598.7 236,621.4 233.9,613.7 186.6,627.2 188.8,635"/>
 <polygon points="524.8,612.6 553.6,633.1 558.4,626.4 580.1,661.1 540.2,652 545,645.2 516.2,624.6"/>
</g>
</svg>

<div class="c" style="left:315px;top:88px"><span style="letter-spacing:0.55px">InterNet/</span><span style="letter-spacing:-0.7px">3G,4G</span><span class="cj">无线网</span></div>
<div class="c" style="left:314px;top:580.5px"><span style="letter-spacing:0.55px">InterNet/</span><span style="letter-spacing:-0.7px">3G,4G</span><span class="cj">无线网</span></div>

<div class="t" style="left:57.90px;top:95.40px;font-size:15px;letter-spacing:1.36px">河沙堆场</div>
<div class="t" style="left:661.30px;top:98.94px;font-size:14px;letter-spacing:1.16px">车辆运输调度系统</div>
<div class="t" style="left:16.70px;top:230.80px;font-size:15px;letter-spacing:1.49px">厂区车辆门禁管控系统</div>
<div class="t" style="left:385.70px;top:234.15px;font-size:15px;letter-spacing:1.05px">办公区</div>
<div class="t" style="left:653.50px;top:228.89px;font-size:14px;letter-spacing:1.19px">物资收发结算管控系统</div>
<div class="t" style="left:208.50px;top:495.00px;font-size:15px;letter-spacing:1.39px">厂区车辆门禁管控系统</div>
<div class="t" style="left:653.80px;top:378.45px;font-size:14px;letter-spacing:1.20px">物资卸<span class="sl">/</span>收<span class="sl">/</span><span style="letter-spacing:1.8px">验管控系统</span></div>
<div class="t" style="left:645.50px;top:489.54px;font-size:14px;letter-spacing:1.13px">物资一卡通智能装载系统</div>
<div class="t" style="left:237.70px;top:727.34px;font-size:14px;letter-spacing:1.50px">总部</div>
<div class="t" style="left:645.10px;top:707.74px;font-size:14px;letter-spacing:1.10px">领导在外办公</div>
</body></html>
